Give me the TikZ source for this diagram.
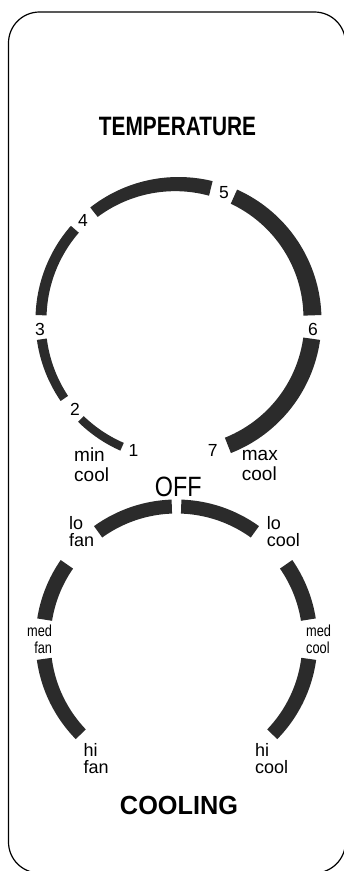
\documentclass[tikz,border=0pt]{standalone}
\usepackage{fontspec}
\setmainfont{Liberation Sans}
\usepackage{graphicx}
\definecolor{barfill}{HTML}{2B2B2B}
\newcommand\taperarc[7]{% cx cy R a1 a2 w1 w2
  \fill[barfill] plot[domain=#4:#5,samples=40] ({#1+#3*cos(\x)},{#2-#3*sin(\x)})
    -- plot[domain=#5:#4,samples=40]
      ({#1+(#3-(#6+(#7-#6)*(\x-#4)/(#5-#4)))*cos(\x)},{#2-(#3-(#6+(#7-#6)*(\x-#4)/(#5-#4)))*sin(\x)})
    -- cycle;}
\tikzset{
  numlbl/.style={inner sep=0pt, anchor=base, font=\fontsize{17.5}{17.5}\selectfont},
  biglbl/.style={inner sep=0pt, anchor=base west, font=\fontsize{19}{19}\selectfont},
  midlbl/.style={inner sep=0pt, anchor=base west, font=\fontsize{18}{18}\selectfont},
  smalllbl/.style={inner sep=0pt, font=\fontsize{16}{16}\selectfont},
  frameline/.style={draw=black, line width=1.2pt, rounded corners=31pt}
}
\begin{document}
\begin{tikzpicture}[x=1pt,y=-1pt]
\useasboundingbox (0,0) rectangle (344,871);
% frame
\draw[frameline] (8.5,400) -- (8.5,12) -- (345.5,12) -- (345.5,873) -- (8.5,873) -- cycle;

% titles
\node[inner sep=0pt, anchor=base] (temp) at (177.5,135) {\resizebox{157pt}{18.3pt}{\bfseries TEMPERATURE}};
\node[inner sep=0pt, anchor=base] (cooling) at (179,814.5) {\resizebox{118pt}{18.3pt}{\bfseries COOLING}};
\node[inner sep=0pt, anchor=base] (off) at (178.3,496) {\resizebox{46.7pt}{19.5pt}{OFF}};

% temperature dial: centre (178.5,320), outer radius 143
\taperarc{178.5}{320}{143}{225.4}{246}{8}{8.5}
\taperarc{178.5}{320}{143}{188}{214.5}{10}{9}
\taperarc{178.5}{320}{143}{178}{138.8}{11}{10.5}
\taperarc{178.5}{320}{143}{128.1}{76.2}{12}{15}
\taperarc{178.5}{320}{143}{65.8}{2}{15.5}{18}
\taperarc{178.5}{320}{143}{-8}{-68.5}{17}{16.5}

\node[numlbl] (n1) at (133.5,456.5) {1};
\node[numlbl] (n2) at (75,415) {2};
\node[numlbl] (n3) at (40,335) {3};
\node[numlbl] (n4) at (83,226.7) {4};
\node[numlbl] (n5) at (224,198.3) {5};
\node[numlbl] (n6) at (313,335) {6};
\node[numlbl] (n7) at (212.7,456.7) {7};

\node[biglbl] (mina) at (74,461.7) {min};
\node[biglbl] (minb) at (74,481.7) {cool};
\node[biglbl] (maxa) at (241.7,460) {max};
\node[biglbl] (maxb) at (241.7,480) {cool};

% cooling dial: centre (176.5,640.5), outer radius 141
\taperarc{176.5}{640.5}{141}{92}{125.8}{14}{14}
\taperarc{176.5}{640.5}{141}{88}{54.2}{14}{14}
\taperarc{176.5}{640.5}{141}{145.2}{171}{15}{15}
\taperarc{176.5}{640.5}{141}{187.9}{224.4}{15}{14}
\taperarc{176.5}{640.5}{141}{34.8}{9}{15}{15}
\taperarc{176.5}{640.5}{141}{-7.9}{-44.4}{15}{14}

\node[midlbl] (lofana) at (69,529.3) {lo};
\node[midlbl] (lofanb) at (69,546.7) {fan};
\node[midlbl] (locoola) at (266.7,529.3) {lo};
\node[midlbl] (locoolb) at (266.7,546.7) {cool};
\node[smalllbl, anchor=base east] (medfana) at (52.3,636) {\scalebox{0.8}[1]{med}};
\node[smalllbl, anchor=base east] (medfanb) at (52.3,653) {\scalebox{0.8}[1]{fan}};
\node[smalllbl, anchor=base west] (medcoola) at (306,636) {\scalebox{0.8}[1]{med}};
\node[smalllbl, anchor=base west] (medcoolb) at (306,653) {\scalebox{0.8}[1]{cool}};
\node[midlbl] (hifana) at (83.5,756.7) {hi};
\node[midlbl] (hifanb) at (83.5,773) {fan};
\node[midlbl] (hicoola) at (255,756.7) {hi};
\node[midlbl] (hicoolb) at (255,773) {cool};
\end{tikzpicture}
\end{document}
